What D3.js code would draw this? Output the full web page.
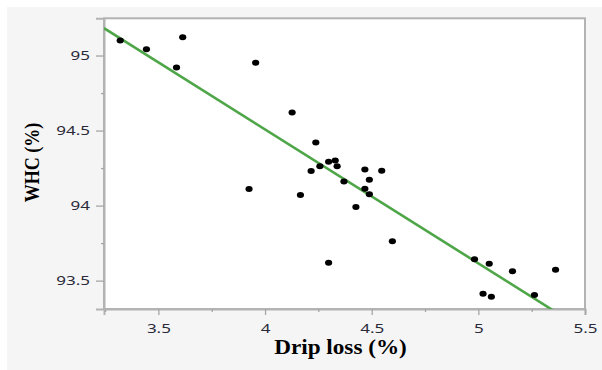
<!DOCTYPE html>
<html>
<head>
<meta charset="utf-8">
<script src="https://cdn.jsdelivr.net/npm/d3@7"></script>
<style>
  html, body { margin: 0; padding: 0; background: #ffffff; }
  svg { display: block; }
</style>
</head>
<body>
<svg id="chart" width="602" height="370"></svg>
<script>
// ---- data ----
const dripLoss = [3.321, 3.444, 3.614, 3.585, 3.956, 4.127, 4.238, 3.925, 4.166, 4.216,
                  4.257, 4.298, 4.329, 4.338, 4.370, 4.298, 4.468, 4.547, 4.489, 4.468,
                  4.489, 4.426, 4.597, 4.982, 5.051, 5.160, 5.362, 5.022, 5.061, 5.263];
const whc      = [95.100, 95.042, 95.122, 94.920, 94.952, 94.620, 94.420, 94.110, 94.070, 94.230,
                  94.263, 94.292, 94.300, 94.263, 94.160, 93.620, 94.241, 94.232, 94.173, 94.113,
                  94.075, 93.990, 93.763, 93.643, 93.612, 93.562, 93.572, 93.413, 93.393, 93.404];
const fitIntercept = 98.08;
const fitSlope = -0.893;
const xMajorTicks = [3.5, 4, 4.5, 5, 5.5];
const xMinorTicks = [3.25, 3.75, 4.25, 4.75, 5.25];
const yMajorTicks = [93.5, 94, 94.5, 95];
const yMinorTicks = [93.75, 94.25, 94.75];
const xTitle = "Drip loss (%)";
const yTitle = "WHC (%)";

(function () {
// ---- layout ----
const S = 1.36;   // horizontal stretch of tick labels in the reference picture
const ST = 1.16;  // horizontal stretch of titles
const pL = 104, pR = 585, pT = 18.3, pB = 309;

const svg = d3.select("#chart");

svg.append("rect").attr("x", 7).attr("y", 7).attr("width", 595).attr("height", 363)
   .attr("fill", "#f5f5f5");
svg.append("rect").attr("x", pL).attr("y", pT).attr("width", pR - pL).attr("height", pB - pT)
   .attr("fill", "#ffffff");

const x = d3.scaleLinear().domain([3.245, 5.5]).range([pL, pR]);
const y = d3.scaleLinear().domain([93.311, 95.248]).range([pB, pT]);

svg.append("clipPath").attr("id", "plotclip").append("rect")
   .attr("x", pL).attr("y", pT).attr("width", pR - pL).attr("height", pB - pT);

svg.append("rect").attr("x", pL).attr("y", pT).attr("width", pR - pL).attr("height", pB - pT)
   .attr("fill", "none").attr("stroke", "#b3b3b3").attr("stroke-width", 2);

const tickColor = "#a6a6a6";
const gx = svg.append("g").attr("transform", `translate(0,${pB})`)
  .call(d3.axisBottom(x).tickValues(xMajorTicks).tickSize(6).tickPadding(6)
        .tickFormat(d3.format("")));
const gxm = svg.append("g").attr("transform", `translate(0,${pB})`)
  .call(d3.axisBottom(x).tickValues(xMinorTicks).tickSize(3).tickFormat(""));
const gy = svg.append("g").attr("transform", `translate(${pL},0)`)
  .call(d3.axisLeft(y).tickValues(yMajorTicks).tickSize(8).tickFormat(d3.format("")));
const gym = svg.append("g").attr("transform", `translate(${pL},0)`)
  .call(d3.axisLeft(y).tickValues(yMinorTicks).tickSize(3).tickFormat(""));

[gx, gxm, gy, gym].forEach(g => {
  g.select(".domain").attr("stroke", "#b3b3b3").attr("stroke-width", 2);
  g.selectAll(".tick line").attr("stroke", tickColor).attr("stroke-width", 1.3);
});
gxm.select(".domain").remove();
gym.select(".domain").remove();

gx.selectAll(".tick text")
  .attr("font-family", "'Noto Sans', 'Open Sans', sans-serif")
  .attr("font-size", 12.5).attr("fill", "#2a2a3a")
  .attr("y", 15)
  .attr("transform", `scale(${S},1)`);
gy.selectAll(".tick text")
  .attr("font-family", "'Noto Sans', 'Open Sans', sans-serif")
  .attr("font-size", 12.5).attr("fill", "#2a2a3a")
  .attr("x", -14 / S)
  .attr("transform", `scale(${S},1)`);

svg.append("line")
  .attr("clip-path", "url(#plotclip)")
  .attr("x1", x(x.domain()[0])).attr("y1", y(fitIntercept + fitSlope * x.domain()[0]))
  .attr("x2", x(x.domain()[1])).attr("y2", y(fitIntercept + fitSlope * x.domain()[1]))
  .attr("stroke", "#4ea648").attr("stroke-width", 2.6);

svg.append("g").selectAll("ellipse")
  .data(dripLoss.map((d, i) => [d, whc[i]]))
  .join("ellipse")
  .attr("cx", d => x(d[0])).attr("cy", d => y(d[1]))
  .attr("rx", 3.6).attr("ry", 3)
  .attr("fill", "#000000");

svg.append("text")
  .attr("transform", `translate(340.5,354) scale(${ST},1)`)
  .attr("text-anchor", "middle")
  .attr("font-family", "'Liberation Serif', 'Times New Roman', serif")
  .attr("font-weight", "bold").attr("font-size", 20).attr("fill", "#000")
  .text(xTitle);
svg.append("text")
  .attr("transform", `translate(38.5,162.5) scale(${ST},1) rotate(-90)`)
  .attr("text-anchor", "middle")
  .attr("font-family", "'Liberation Serif', 'Times New Roman', serif")
  .attr("font-weight", "bold").attr("font-size", 18).attr("fill", "#000")
  .text(yTitle);
})();
</script>
</body>
</html>
